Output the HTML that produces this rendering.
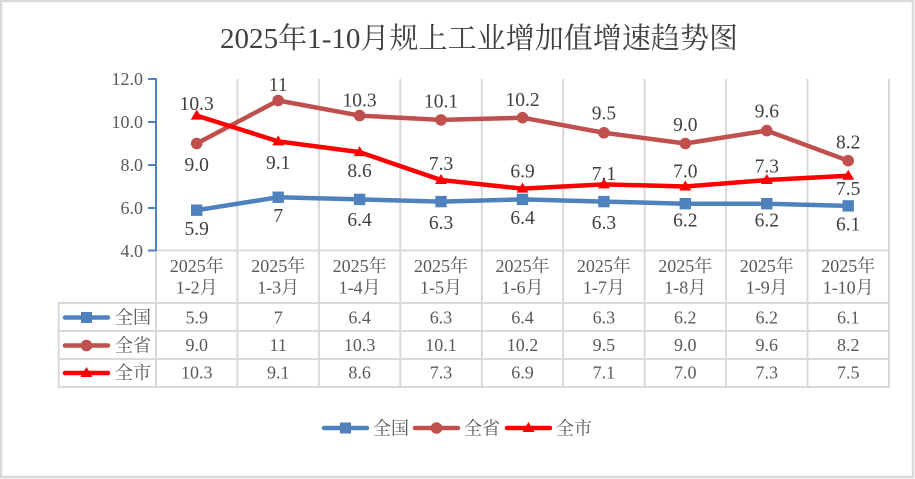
<!DOCTYPE html>
<html><head><meta charset="utf-8"><style>
html,body{margin:0;padding:0;background:#fff;}
svg{display:block;}
text{font-family:"Liberation Serif","Noto Serif CJK SC",serif;}
</style></head><body>
<svg width="915" height="479" viewBox="0 0 915 479" xmlns="http://www.w3.org/2000/svg">
<rect x="1" y="1" width="912" height="476" fill="#fff" stroke="#d9d9d9" stroke-width="2.5"/>
<text x="220" y="48" font-size="29" fill="#404040" textLength="518" lengthAdjust="spacing">2025年1-10月规上工业增加值增速趋势图</text>

<g stroke="#d9d9d9" stroke-width="2" fill="none">
<line x1="237.4" y1="79" x2="237.4" y2="387"/>
<line x1="318.9" y1="79" x2="318.9" y2="387"/>
<line x1="400.3" y1="79" x2="400.3" y2="387"/>
<line x1="481.8" y1="79" x2="481.8" y2="387"/>
<line x1="563.2" y1="79" x2="563.2" y2="387"/>
<line x1="644.6" y1="79" x2="644.6" y2="387"/>
<line x1="726.1" y1="79" x2="726.1" y2="387"/>
<line x1="807.5" y1="79" x2="807.5" y2="387"/>
<line x1="889" y1="79" x2="889" y2="387"/>
<line x1="156" y1="250" x2="156" y2="387"/>
<line x1="58.7" y1="303" x2="58.7" y2="387"/>
<line x1="156" y1="250.5" x2="890" y2="250.5"/>
<line x1="57.7" y1="303" x2="890" y2="303"/>
<line x1="57.7" y1="331" x2="890" y2="331"/>
<line x1="57.7" y1="359" x2="890" y2="359"/>
<line x1="57.7" y1="387" x2="890" y2="387"/>
</g>

<g stroke="#4f81bd" stroke-width="2">
<line x1="156" y1="78" x2="156" y2="251"/>
<line x1="148" y1="79" x2="156" y2="79"/>
<line x1="148" y1="122" x2="156" y2="122"/>
<line x1="148" y1="165" x2="156" y2="165"/>
<line x1="148" y1="208" x2="156" y2="208"/>
<line x1="148" y1="250.5" x2="156" y2="250.5"/>
</g>
<g font-size="18" fill="#595959" text-anchor="end">
<text x="143" y="85">12.0</text>
<text x="143" y="128">10.0</text>
<text x="143" y="171">8.0</text>
<text x="143" y="214">6.0</text>
<text x="143" y="257">4.0</text>
</g>

<!-- series lines -->
<polyline fill="none" stroke="#c0504d" stroke-width="4.5" stroke-linejoin="round" points="196.7,143.5 278.2,100.5 359.6,115.6 441,119.9 522.5,117.7 603.9,132.75 685.3,143.5 766.8,130.6 848.2,160.7"/>
<polyline fill="none" stroke="#ff0000" stroke-width="4.5" stroke-linejoin="round" points="196.7,115.6 278.2,141.35 359.6,152.1 441,180.05 522.5,188.65 603.9,184.35 685.3,186.5 766.8,180.05 848.2,175.75"/>
<polyline fill="none" stroke="#4f81bd" stroke-width="4.5" stroke-linejoin="round" points="196.7,210.2 278.2,197.25 359.6,199.4 441,201.6 522.5,199.4 603.9,201.6 685.3,203.7 766.8,203.7 848.2,205.9"/>

<!-- markers -->
<g fill="#c0504d">
<circle cx="196.7" cy="143.5" r="5.8"/><circle cx="278.2" cy="100.5" r="5.8"/><circle cx="359.6" cy="115.6" r="5.8"/><circle cx="441" cy="119.9" r="5.8"/><circle cx="522.5" cy="117.7" r="5.8"/><circle cx="603.9" cy="132.75" r="5.8"/><circle cx="685.3" cy="143.5" r="5.8"/><circle cx="766.8" cy="130.6" r="5.8"/><circle cx="848.2" cy="160.7" r="5.8"/>
</g>
<g fill="#ff0000">
<polygon points="196.7,109.6 202.7,119.6 190.7,119.6"/>
<polygon points="278.2,135.35 284.2,145.35 272.2,145.35"/>
<polygon points="359.6,146.1 365.6,156.1 353.6,156.1"/>
<polygon points="441,174.05 447,184.05 435,184.05"/>
<polygon points="522.5,182.65 528.5,192.65 516.5,192.65"/>
<polygon points="603.9,178.35 609.9,188.35 597.9,188.35"/>
<polygon points="685.3,180.5 691.3,190.5 679.3,190.5"/>
<polygon points="766.8,174.05 772.8,184.05 760.8,184.05"/>
<polygon points="848.2,169.75 854.2,179.75 842.2,179.75"/>
</g>
<g fill="#4f81bd">
<rect x="191" y="204.5" width="11.4" height="11.4"/><rect x="272.5" y="191.55" width="11.4" height="11.4"/><rect x="353.9" y="193.7" width="11.4" height="11.4"/><rect x="435.3" y="195.9" width="11.4" height="11.4"/><rect x="516.8" y="193.7" width="11.4" height="11.4"/><rect x="598.2" y="195.9" width="11.4" height="11.4"/><rect x="679.6" y="198" width="11.4" height="11.4"/><rect x="761.1" y="198" width="11.4" height="11.4"/><rect x="842.5" y="200.2" width="11.4" height="11.4"/>
</g>

<!-- data labels -->
<g font-size="19.5" fill="#404040" text-anchor="middle">
<text x="196.7" y="171">9.0</text>
<text x="278.2" y="91">11</text>
<text x="359.6" y="106.7">10.3</text>
<text x="441" y="107.7">10.1</text>
<text x="522.5" y="106">10.2</text>
<text x="603.9" y="119.3">9.5</text>
<text x="685.3" y="131">9.0</text>
<text x="766.8" y="117.3">9.6</text>
<text x="848.2" y="148.3">8.2</text>

<text x="196.7" y="110">10.3</text>
<text x="278.2" y="169">9.1</text>
<text x="359.6" y="177">8.6</text>
<text x="441" y="170">7.3</text>
<text x="522.5" y="177.7">6.9</text>
<text x="603.9" y="180">7.1</text>
<text x="685.3" y="177.7">7.0</text>
<text x="766.8" y="172.3">7.3</text>
<text x="848.2" y="195">7.5</text>

<text x="196.7" y="235">5.9</text>
<text x="278.2" y="222">7</text>
<text x="359.6" y="226">6.4</text>
<text x="441" y="229">6.3</text>
<text x="522.5" y="224">6.4</text>
<text x="603.9" y="229">6.3</text>
<text x="685.3" y="226.7">6.2</text>
<text x="766.8" y="226.7">6.2</text>
<text x="848.2" y="230.7">6.1</text>
</g>

<!-- category labels -->
<g font-size="18" fill="#595959" text-anchor="middle">
<text x="196.7" y="272">2025年</text><text x="196.7" y="293.5">1-2月</text>
<text x="278.2" y="272">2025年</text><text x="278.2" y="293.5">1-3月</text>
<text x="359.6" y="272">2025年</text><text x="359.6" y="293.5">1-4月</text>
<text x="441" y="272">2025年</text><text x="441" y="293.5">1-5月</text>
<text x="522.5" y="272">2025年</text><text x="522.5" y="293.5">1-6月</text>
<text x="603.9" y="272">2025年</text><text x="603.9" y="293.5">1-7月</text>
<text x="685.3" y="272">2025年</text><text x="685.3" y="293.5">1-8月</text>
<text x="766.8" y="272">2025年</text><text x="766.8" y="293.5">1-9月</text>
<text x="848.2" y="272">2025年</text><text x="848.2" y="293.5">1-10月</text>

<text x="196.7" y="323.3">5.9</text><text x="278.2" y="323.3">7</text><text x="359.6" y="323.3">6.4</text><text x="441" y="323.3">6.3</text><text x="522.5" y="323.3">6.4</text><text x="603.9" y="323.3">6.3</text><text x="685.3" y="323.3">6.2</text><text x="766.8" y="323.3">6.2</text><text x="848.2" y="323.3">6.1</text>
<text x="196.7" y="351">9.0</text><text x="278.2" y="351">11</text><text x="359.6" y="351">10.3</text><text x="441" y="351">10.1</text><text x="522.5" y="351">10.2</text><text x="603.9" y="351">9.5</text><text x="685.3" y="351">9.0</text><text x="766.8" y="351">9.6</text><text x="848.2" y="351">8.2</text>
<text x="196.7" y="378.5">10.3</text><text x="278.2" y="378.5">9.1</text><text x="359.6" y="378.5">8.6</text><text x="441" y="378.5">7.3</text><text x="522.5" y="378.5">6.9</text><text x="603.9" y="378.5">7.1</text><text x="685.3" y="378.5">7.0</text><text x="766.8" y="378.5">7.3</text><text x="848.2" y="378.5">7.5</text>
</g>

<!-- table legend keys -->
<g stroke-width="4.5" stroke-linecap="round">
<line x1="65" y1="317.5" x2="108" y2="317.5" stroke="#4f81bd"/>
<line x1="65" y1="345.5" x2="108" y2="345.5" stroke="#c0504d"/>
<line x1="65" y1="373" x2="108" y2="373" stroke="#ff0000"/>
</g>
<rect x="81" y="312" width="11" height="11" fill="#4f81bd"/>
<circle cx="86.5" cy="345.5" r="5.8" fill="#c0504d"/>
<polygon points="86.5,367 92.5,377 80.5,377" fill="#ff0000"/>
<g font-size="18" fill="#595959">
<text x="115" y="323.5">全国</text>
<text x="115" y="351.5">全省</text>
<text x="115" y="379">全市</text>
</g>

<!-- bottom legend -->
<g stroke-width="4.5" stroke-linecap="round">
<line x1="324" y1="428" x2="367" y2="428" stroke="#4f81bd"/>
<line x1="415" y1="428" x2="458" y2="428" stroke="#c0504d"/>
<line x1="507" y1="428" x2="550" y2="428" stroke="#ff0000"/>
</g>
<rect x="340" y="422.5" width="11" height="11" fill="#4f81bd"/>
<circle cx="436.5" cy="428" r="5.8" fill="#c0504d"/>
<polygon points="528.5,422 534.5,432 522.5,432" fill="#ff0000"/>
<g font-size="18" fill="#595959">
<text x="373" y="434.5">全国</text>
<text x="464" y="434.5">全省</text>
<text x="556" y="434.5">全市</text>
</g>
</svg>
</body></html>
